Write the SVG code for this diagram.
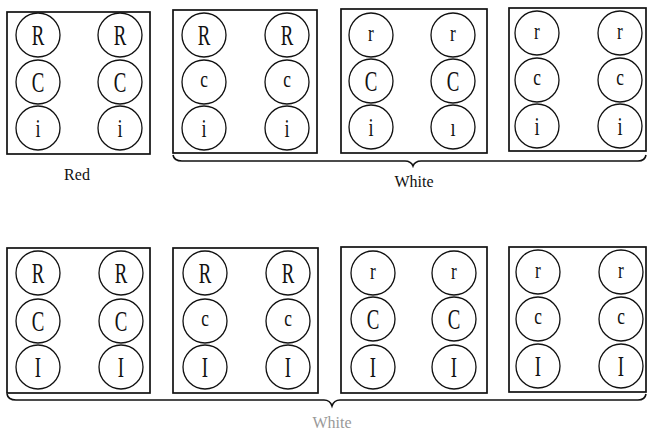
<svg xmlns="http://www.w3.org/2000/svg" width="650" height="431" viewBox="0 0 650 431">
<style>
.box{fill:none;stroke:#111;stroke-width:1.7}
.c{fill:none;stroke:#111;stroke-width:1.3}
.t{font-family:"Liberation Serif",serif;font-size:29px;fill:#111;text-anchor:middle}
.s{font-family:"Liberation Serif",serif;font-size:24px;fill:#111;text-anchor:middle}
.i{font-family:"Liberation Serif",serif;font-size:26px;fill:#111;text-anchor:middle}
.lab{font-family:"Liberation Serif",serif;font-size:16px;fill:#111;text-anchor:middle}
.brace{fill:none;stroke:#111;stroke-width:1.6}
</style>
<defs>
<circle id="o" r="22" class="c"/>
</defs>
<rect width="650" height="431" fill="#fff"/>

<g id="box1">
<rect class="box" x="7" y="12" width="143" height="142"/>
<use href="#o" x="38" y="35"/><use href="#o" x="120" y="35"/>
<use href="#o" x="38" y="82"/><use href="#o" x="120" y="82"/>
<use href="#o" x="38" y="128"/><use href="#o" x="120" y="128"/>
<text class="t" transform="translate(38 45) scale(0.65 1)">R</text><text class="t" transform="translate(120 45) scale(0.65 1)">R</text>
<text class="t" transform="translate(38 92) scale(0.65 1)">C</text><text class="t" transform="translate(120 92) scale(0.65 1)">C</text>
<text class="i" transform="translate(38 137) scale(0.7 1)">i</text><text class="i" transform="translate(120 137) scale(0.7 1)">i</text>
</g>

<g id="box2">
<rect class="box" x="173" y="10" width="144" height="143"/>
<use href="#o" x="204" y="35"/><use href="#o" x="287" y="35"/>
<use href="#o" x="204" y="82"/><use href="#o" x="287" y="82"/>
<use href="#o" x="204" y="128"/><use href="#o" x="287" y="128"/>
<text class="t" transform="translate(204 45) scale(0.65 1)">R</text><text class="t" transform="translate(287 45) scale(0.65 1)">R</text>
<text class="s" transform="translate(204 87) scale(0.72 1)">c</text><text class="s" transform="translate(287 87) scale(0.72 1)">c</text>
<text class="i" transform="translate(204 137) scale(0.7 1)">i</text><text class="i" transform="translate(287 137) scale(0.7 1)">i</text>
</g>

<g id="box3">
<rect class="box" x="341" y="9" width="146" height="144"/>
<use href="#o" x="371" y="35"/><use href="#o" x="453" y="35"/>
<use href="#o" x="371" y="81"/><use href="#o" x="453" y="81"/>
<use href="#o" x="371" y="127"/><use href="#o" x="453" y="127"/>
<text class="s" transform="translate(371 41) scale(0.72 1)">r</text><text class="s" transform="translate(453 41) scale(0.72 1)">r</text>
<text class="t" transform="translate(371 91) scale(0.65 1)">C</text><text class="t" transform="translate(453 91) scale(0.65 1)">C</text>
<text class="i" transform="translate(371 136) scale(0.7 1)">i</text><text class="i" transform="translate(453 136) scale(0.7 1)">ı</text>
</g>

<g id="box4">
<rect class="box" x="509" y="8" width="137" height="143"/>
<use href="#o" x="537" y="33"/><use href="#o" x="620" y="33"/>
<use href="#o" x="537" y="80"/><use href="#o" x="620" y="80"/>
<use href="#o" x="537" y="126"/><use href="#o" x="620" y="126"/>
<text class="s" transform="translate(537 39) scale(0.72 1)">r</text><text class="s" transform="translate(620 39) scale(0.72 1)">r</text>
<text class="s" transform="translate(537 85) scale(0.72 1)">c</text><text class="s" transform="translate(620 85) scale(0.72 1)">c</text>
<text class="i" transform="translate(537 135) scale(0.7 1)">i</text><text class="i" transform="translate(620 135) scale(0.7 1)">i</text>
</g>

<g id="box5">
<rect class="box" x="7" y="248" width="143" height="145"/>
<use href="#o" x="38" y="273"/><use href="#o" x="121" y="273"/>
<use href="#o" x="38" y="321"/><use href="#o" x="121" y="321"/>
<use href="#o" x="38" y="367"/><use href="#o" x="121" y="367"/>
<text class="t" transform="translate(38 283) scale(0.65 1)">R</text><text class="t" transform="translate(121 283) scale(0.65 1)">R</text>
<text class="t" transform="translate(38 331) scale(0.65 1)">C</text><text class="t" transform="translate(121 331) scale(0.65 1)">C</text>
<text class="t" transform="translate(38 377) scale(0.65 1)">I</text><text class="t" transform="translate(121 377) scale(0.65 1)">I</text>
</g>

<g id="box6">
<rect class="box" x="173" y="248" width="145" height="145"/>
<use href="#o" x="205" y="273"/><use href="#o" x="288" y="273"/>
<use href="#o" x="205" y="321"/><use href="#o" x="288" y="321"/>
<use href="#o" x="205" y="367"/><use href="#o" x="288" y="367"/>
<text class="t" transform="translate(205 283) scale(0.65 1)">R</text><text class="t" transform="translate(288 283) scale(0.65 1)">R</text>
<text class="s" transform="translate(205 326) scale(0.72 1)">c</text><text class="s" transform="translate(288 326) scale(0.72 1)">c</text>
<text class="t" transform="translate(205 377) scale(0.65 1)">I</text><text class="t" transform="translate(288 377) scale(0.65 1)">I</text>
</g>

<g id="box7">
<rect class="box" x="341" y="247" width="146" height="146"/>
<use href="#o" x="373" y="273"/><use href="#o" x="454" y="273"/>
<use href="#o" x="373" y="319"/><use href="#o" x="454" y="319"/>
<use href="#o" x="373" y="367"/><use href="#o" x="454" y="367"/>
<text class="s" transform="translate(373 279) scale(0.72 1)">r</text><text class="s" transform="translate(454 279) scale(0.72 1)">r</text>
<text class="t" transform="translate(373 329) scale(0.65 1)">C</text><text class="t" transform="translate(454 329) scale(0.65 1)">C</text>
<text class="t" transform="translate(373 377) scale(0.65 1)">I</text><text class="t" transform="translate(454 377) scale(0.65 1)">I</text>
</g>

<g id="box8">
<rect class="box" x="509" y="247" width="137" height="145"/>
<use href="#o" x="538" y="272"/><use href="#o" x="621" y="272"/>
<use href="#o" x="538" y="319"/><use href="#o" x="621" y="319"/>
<use href="#o" x="538" y="366"/><use href="#o" x="621" y="366"/>
<text class="s" transform="translate(538 278) scale(0.72 1)">r</text><text class="s" transform="translate(621 278) scale(0.72 1)">r</text>
<text class="s" transform="translate(538 324) scale(0.72 1)">c</text><text class="s" transform="translate(621 324) scale(0.72 1)">c</text>
<text class="t" transform="translate(538 376) scale(0.65 1)">I</text><text class="t" transform="translate(621 376) scale(0.65 1)">I</text>
</g>

<g id="connectors">
<path class="brace" d="M173,155 Q174,161 182,161 L405,161 Q411,161 413,166 Q415,161 421,161 L638,161 Q645,161 646,155"/>
<path class="brace" d="M7,394 Q8,400 16,400 L324,400 Q330,400 332,406 Q334,400 340,400 L638,400 Q645,400 646,394"/>
</g>

<g id="labels">
<text class="lab" x="77" y="180">Red</text>
<text class="lab" x="414" y="187">White</text>
<text class="lab" x="332" y="428" style="fill:#999">White</text>
</g>
</svg>
